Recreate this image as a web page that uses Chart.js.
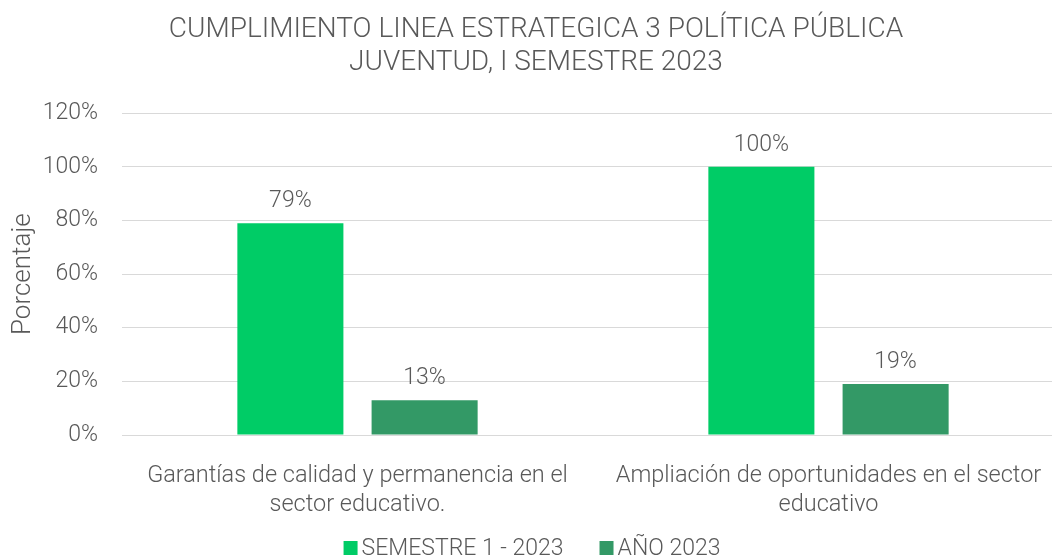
<!DOCTYPE html>
<html>
<head>
<meta charset="utf-8">
<script src="https://cdn.jsdelivr.net/npm/chart.js@4"></script>
<style>
  html, body { margin: 0; padding: 0; background: #fff; overflow: hidden; }
  .wrap { width: 1064px; height: 557px; }
</style>
</head>
<body>
<div class="wrap"><canvas id="chart"></canvas></div>
<script>
const categories = [
  ['Garantías de calidad y permanencia en el', 'sector educativo.'],
  ['Ampliación de oportunidades en el sector', 'educativo']
];
const semestre = [79, 100];
const anio = [13, 19];
const yTicks = [0, 20, 40, 60, 80, 100, 120];

const textColor = '#595959';
const font = 'Roboto';

// value labels above each bar
const BarLabels = {
  id: 'barLabels',
  afterDatasetsDraw: (chart) => {
    const { ctx } = chart;
    ctx.save();
    ctx.font = '300 23px ' + font;
    ctx.fillStyle = textColor;
    ctx.textAlign = 'center';
    ctx.textBaseline = 'alphabetic';
    chart.data.datasets.forEach((ds, i) => {
      chart.getDatasetMeta(i).data.forEach((bar, j) => {
        ctx.fillText(ds.data[j] + '%', bar.x, bar.y - 16);
      });
    });
    ctx.restore();
  }
};

// legend drawn by hand so the square sits close to its text
const BottomLegend = {
  id: 'bottomLegend',
  afterDraw: (chart) => {
    const { ctx } = chart;
    const box = 14, gap = 4, spacing = 36;
    const y = chart.height - 9;
    ctx.save();
    ctx.font = '300 23px ' + font;
    ctx.textBaseline = 'middle';
    const items = chart.data.datasets.map(ds => ({
      text: ds.label,
      color: ds.backgroundColor,
      w: box + gap + ctx.measureText(ds.label).width
    }));
    const total = items.reduce((s, it) => s + it.w, 0) + spacing * (items.length - 1);
    let x = (chart.width - total) / 2;
    items.forEach(it => {
      ctx.fillStyle = it.color;
      ctx.fillRect(x, y - box / 2, box, box);
      ctx.fillStyle = textColor;
      ctx.fillText(it.text, x + box + gap, y + 1);
      x += it.w + spacing;
    });
    ctx.restore();
  }
};

const ctx = document.getElementById('chart').getContext('2d');
new Chart(ctx, {
  type: 'bar',
  data: {
    labels: categories,
    datasets: [
      {
        label: 'SEMESTRE 1 - 2023',
        data: semestre,
        backgroundColor: '#00cc66'
      },
      {
        label: 'AÑO 2023',
        data: anio,
        backgroundColor: '#339966'
      }
    ]
  },
  options: {
    responsive: true,
    maintainAspectRatio: false,
    animation: false,
    categoryPercentage: 0.57,
    barPercentage: 0.79,
    layout: { padding: { left: 8, right: 0, top: 8, bottom: 45 } },
    plugins: {
      tooltip: { enabled: false },
      legend: { display: false },
      title: {
        display: true,
        text: ['CUMPLIMIENTO LINEA ESTRATEGICA 3 POLÍTICA PÚBLICA', 'JUVENTUD, I SEMESTRE 2023'],
        color: textColor,
        font: { family: font, size: 28, weight: '300', lineHeight: 1.2 },
        padding: { top: 5, bottom: 33 }
      }
    },
    scales: {
      x: {
        grid: { display: false },
        border: { color: '#d9d9d9' },
        afterFit: (axis) => { axis.height = 77; },
        ticks: {
          color: textColor,
          font: { family: font, size: 23.5, weight: '300', lineHeight: 1.25 },
          maxRotation: 0,
          autoSkip: false,
          padding: 18
        }
      },
      y: {
        min: 0,
        max: 120,
        afterBuildTicks: (axis) => { axis.ticks = yTicks.map(v => ({ value: v })); },
        afterFit: (axis) => { axis.width = 114; },
        grid: { color: '#d9d9d9', drawTicks: false },
        border: { display: false },
        title: {
          display: true,
          text: 'Porcentaje',
          color: textColor,
          font: { family: font, size: 26, weight: '300', lineHeight: 1.2 },
          padding: { top: 0, bottom: 0 }
        },
        ticks: {
          color: textColor,
          font: { family: font, size: 23, weight: '300' },
          padding: 24,
          callback: (v) => v + '%'
        }
      }
    }
  },
  plugins: [BarLabels, BottomLegend]
});
</script>
</body>
</html>
